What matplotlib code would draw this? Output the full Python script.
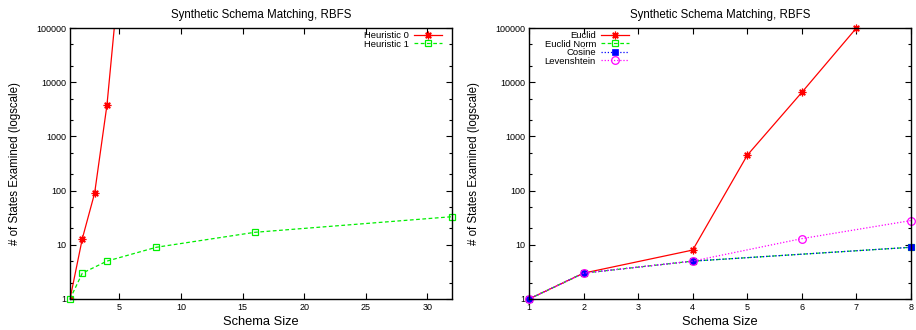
import matplotlib
matplotlib.use('Agg')
import matplotlib.pyplot as plt
from matplotlib.ticker import LogLocator, FixedLocator, NullFormatter, NullLocator

plt.rcParams['font.family'] = ['Liberation Sans', 'DejaVu Sans']

# left chart: heuristics
h0_x = [1, 2, 3, 4, 5]
h0_y = [1, 13, 90, 3800, 950000]
h1_x = [1, 2, 4, 8, 16, 32]
h1_y = [1, 3, 5, 9, 17, 33]

# right chart: distance measures
euclid_x = [1, 2, 4, 5, 6, 7]
euclid_y = [1, 3, 8, 450, 6500, 100000]
enorm_x = [1, 2, 4, 8]
enorm_y = [1, 3, 5, 9]
cosine_x = [1, 2, 4, 8]
cosine_y = [1, 3, 5, 9]
leven_x = [1, 2, 4, 6, 8]
leven_y = [1, 3, 5, 13, 28]

left_xticks = [5, 10, 15, 20, 25, 30]
right_xticks = [1, 2, 3, 4, 5, 6, 7, 8]
yticks = [1, 10, 100, 1000, 10000, 100000]

title = 'Synthetic Schema Matching, RBFS'
xlabel = 'Schema Size'
ylabel = '# of States Examined (logscale)'

W, H = 916, 330
fig = plt.figure(figsize=(W / 100, H / 100), dpi=100)
ax1 = fig.add_axes([70 / W, 31 / H, 382 / W, 271 / H])
ax2 = fig.add_axes([529 / W, 31 / H, 382 / W, 271 / H])

star = (8, 2, 0)

def style(ax, xlim, xticks):
    ax.set_yscale('log')
    ax.set_ylim(1, 100000)
    ax.set_xlim(*xlim)
    ax.yaxis.set_major_locator(FixedLocator(yticks))
    ax.set_yticklabels([str(v) for v in yticks])
    ax.yaxis.set_minor_locator(LogLocator(base=10, subs=(2.0, 5.0)))
    ax.yaxis.set_minor_formatter(NullFormatter())
    ax.set_xticks(xticks)
    ax.set_xticklabels([str(v) for v in xticks])
    ax.xaxis.set_minor_locator(NullLocator())
    ax.tick_params(which='both', direction='in', top=True, right=True,
                   labelsize=6.5, width=0.8, pad=3)
    ax.tick_params(which='major', length=4)
    ax.tick_params(which='minor', length=2)
    for s in ax.spines.values():
        s.set_linewidth(1.0)
    ax.set_title(title, fontsize=8.3, pad=7)
    ax.set_xlabel(xlabel, fontsize=9.3, labelpad=3)
    ax.set_ylabel(ylabel, fontsize=8.3, labelpad=11)

leg_kw = dict(loc='upper right', bbox_transform=fig.transFigure, frameon=False,
              markerfirst=False, fontsize=6.8, borderpad=0, labelspacing=-0.05,
              handlelength=3.0, handletextpad=0.5, borderaxespad=0)

# left
ax1.plot(h0_x, h0_y, color='#ff0000', lw=0.9, marker=star, ms=5.5, mew=0.9,
         label='Heuristic 0')
ax1.plot(h1_x, h1_y, color='#00ee00', lw=0.9, ls=(0, (3, 2)), marker='s', ms=5,
         mfc='none', mew=0.9, label='Heuristic 1', clip_on=False)
style(ax1, (1, 32), left_xticks)
ax1.legend(bbox_to_anchor=(442 / W, 1 - 31 / H), **leg_kw)

# right
ax2.plot(euclid_x, euclid_y, color='#ff0000', lw=0.9, marker=star, ms=5.5, mew=0.9,
         label='Euclid', clip_on=False)
ax2.plot(enorm_x, enorm_y, color='#00ee00', lw=0.9, ls=(0, (3, 2)), marker='s', ms=5,
         mfc='none', mew=0.9, label='Euclid Norm', clip_on=False)
ax2.plot(cosine_x, cosine_y, color='#0000ff', lw=0.9, ls=(0, (1, 1.5)), marker='s', ms=4.5,
         mew=0.5, label='Cosine', clip_on=False)
ax2.plot(leven_x, leven_y, color='#ff00ff', lw=0.9, ls=(0, (1, 1.5)), marker='o', ms=5.5,
         mfc='none', mew=0.9, label='Levenshtein', clip_on=False)
style(ax2, (1, 8), right_xticks)
ax2.legend(bbox_to_anchor=(629 / W, 1 - 31 / H), **leg_kw)

fig.savefig('out.png', dpi=100)
